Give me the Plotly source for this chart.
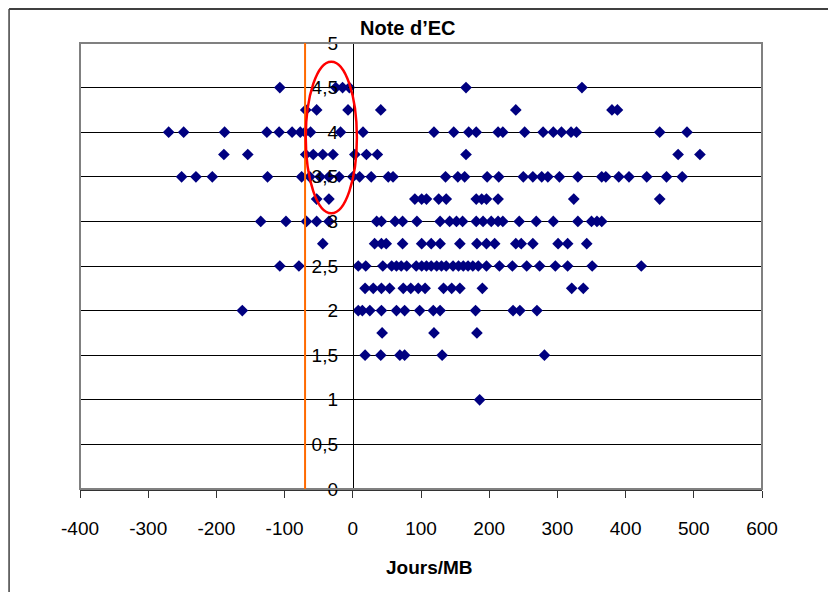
import plotly.graph_objects as go

# notes (y) with days (x), one list per note level
jours_4_5 = [-107, -25, -15, -5, 166, 336]
jours_4_25 = [-69, -53, -7, 41, 239, 380, 388]
jours_4 = [-270, -248, -188, -126, -108, -89, -77, -70, -62, -18, 15, 119, 148, 170, 181,
           213, 220, 252, 279, 294, 306, 320, 328, 450, 490]
jours_3_75 = [-189, -154, -69, -58, -44, -29, 3, 20, 36, 166, 477, 509]
jours_3_5 = [-251, -230, -206, -125, -75, -63, -48, -35, -20, 0, 10, 27, 52, 59, 136, 154,
             164, 197, 214, 250, 264, 277, 286, 303, 330, 365, 371, 390, 405, 431, 460, 483]
jours_3_25 = [-53, -35, 91, 101, 108, 126, 137, 181, 189, 196, 213, 324, 450]
jours_3 = [-135, -98, -68, -53, -35, 35, 42, 62, 73, 94, 128, 142, 152, 161, 181, 191,
           203, 213, 220, 244, 269, 294, 330, 350, 358, 365]
jours_2_75 = [-44, 32, 42, 49, 73, 101, 115, 128, 157, 182, 196, 208, 239, 247, 264, 301,
              315, 343]
jours_2_5 = [-107, -79, 8, 19, 44, 57, 64, 71, 79, 93, 101, 108, 115, 123, 130, 137, 147,
             155, 162, 169, 176, 184, 196, 215, 234, 255, 274, 297, 315, 351, 423]
jours_2_25 = [18, 30, 42, 54, 74, 85, 96, 106, 133, 145, 157, 190, 321, 338]
jours_2 = [-162, 8, 14, 25, 42, 64, 76, 98, 118, 128, 180, 235, 245, 270]
jours_1_75 = [43, 119, 182]
jours_1_5 = [18, 41, 69, 76, 131, 281]
jours_1 = [186]

niveaux = [4.5, 4.25, 4, 3.75, 3.5, 3.25, 3, 2.75, 2.5, 2.25, 2, 1.75, 1.5, 1]
lignes = [jours_4_5, jours_4_25, jours_4, jours_3_75, jours_3_5, jours_3_25, jours_3,
          jours_2_75, jours_2_5, jours_2_25, jours_2, jours_1_75, jours_1_5, jours_1]

xtick_vals = [-400, -300, -200, -100, 0, 100, 200, 300, 400, 500, 600]
xtick_text = ["-400", "-300", "-200", "-100", "0", "100", "200", "300", "400", "500", "600"]
ytick_vals = [0, 0.5, 1, 1.5, 2, 2.5, 3, 3.5, 4, 4.5, 5]
ytick_text = ["0", "0,5", "1", "1,5", "2", "2,5", "3", "3,5", "4", "4,5", "5"]

seuil_jours = -70
ellipse_x = [-69, 6]
ellipse_y = [3.09, 4.79]

xs = []
ys = []
for note, jours in zip(niveaux, lignes):
    for j in jours:
        xs.append(j)
        ys.append(note)

police = "Liberation Sans, Arial, sans-serif"

fig = go.Figure()
fig.add_trace(go.Scatter(
    x=xs, y=ys, mode="markers",
    marker=dict(symbol="diamond", color="#000080", size=9, line=dict(width=0)),
    showlegend=False
))

# the page body has an 8px margin, so the figure is a bit smaller
fig.update_layout(
    width=828, height=584,
    margin=dict(l=72, r=74, t=35, b=103),
    paper_bgcolor="white", plot_bgcolor="white",
    font=dict(family=police, size=19, color="black"),
    showlegend=False,
    xaxis=dict(
        range=[-400, 600], tickvals=xtick_vals, ticktext=xtick_text,
        showgrid=False, zeroline=False,
        showline=True, linecolor="#333333", linewidth=1.5,
        ticks="outside", ticklen=7, tickcolor="#333333", tickwidth=1,
        ticklabelstandoff=14,
        tickfont=dict(size=19)
    ),
    yaxis=dict(
        range=[0, 5], tickvals=ytick_vals, ticktext=ytick_text,
        anchor="free", position=0.4,
        showgrid=True, gridcolor="black", gridwidth=1,
        zeroline=False,
        showline=True, linecolor="black", linewidth=1,
        ticks="outside", ticklen=5, tickcolor="black",
        ticklabelstandoff=6,
        tickfont=dict(size=19)
    ),
)

shapes = [
    # plot area border
    dict(type="rect", xref="paper", yref="paper", x0=0, x1=1, y0=0, y1=1,
         line=dict(color="#808080", width=2)),
    # orange threshold line
    dict(type="line", xref="x", yref="y", x0=seuil_jours, x1=seuil_jours, y0=0, y1=5,
         line=dict(color="#FF6A00", width=2)),
    # red ellipse
    dict(type="circle", xref="x", yref="y", x0=ellipse_x[0], x1=ellipse_x[1],
         y0=ellipse_y[0], y1=ellipse_y[1], line=dict(color="#FF0000", width=2.5)),
    # outer chart frame (left and top)
    dict(type="line", xref="paper", yref="paper", x0=-0.104, x1=-0.104, y0=-0.3, y1=1.076,
         line=dict(color="#404040", width=1.5)),
    dict(type="line", xref="paper", yref="paper", x0=-0.104, x1=1.2, y0=1.076, y1=1.076,
         line=dict(color="#404040", width=2)),
]
fig.update_layout(shapes=shapes)

fig.add_annotation(text="<b>Note d’EC</b>", xref="paper", yref="paper",
                   x=0.481, y=1.034, xanchor="center", yanchor="middle",
                   showarrow=False, font=dict(size=20, family=police))
fig.add_annotation(text="<b>Jours/MB</b>", xref="paper", yref="paper",
                   x=0.513, y=-0.175, xanchor="center", yanchor="middle",
                   showarrow=False, font=dict(size=19, family=police))

fig.write_html("out.html")
